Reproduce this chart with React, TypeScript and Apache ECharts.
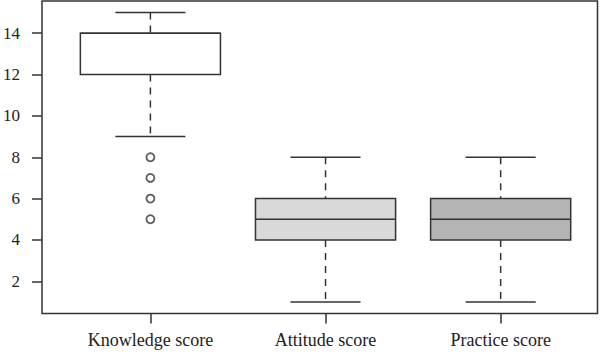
import React, { useEffect, useRef } from "react";
import * as echarts from "echarts";

const categories = ["Knowledge score", "Attitude score", "Practice score"];
const whiskerLow = [9, 1, 1];
const quartile1 = [12, 4, 4];
const medians = [14, 5, 5];
const quartile3 = [14, 6, 6];
const whiskerHigh = [15, 8, 8];
const knowledgeOutliers = [8, 7, 6, 5];
const yTicks = [2, 4, 6, 8, 10, 12, 14];

const boxFills = ["#ffffff", "#d9d9d9", "#b4b4b4"];
const INK = "#333333";
const FONT = "'Liberation Serif', 'DejaVu Serif', serif";

export default function App() {
  const ref = useRef<HTMLDivElement>(null);
  useEffect(() => {
    if (!ref.current) return;
    const chart = echarts.init(ref.current, undefined, { renderer: "svg" });
    const boxData = categories.map((_, i) => [
      i + 1,
      whiskerLow[i],
      quartile1[i],
      medians[i],
      quartile3[i],
      whiskerHigh[i],
    ]);
    const outlierData = knowledgeOutliers.map((v) => [1, v]);
    const line = { stroke: INK, lineWidth: 1.5 };
    chart.setOption({
      animation: false,
      grid: {
        left: 39,
        right: 2.5,
        top: 1,
        bottom: 40.5,
        show: true,
        borderColor: INK,
        borderWidth: 1.5,
        backgroundColor: "transparent",
      },
      xAxis: {
        type: "value",
        min: 0.381,
        max: 3.553,
        splitLine: { show: false },
        axisLine: { show: false },
        axisTick: {
          show: true,
          customValues: [1, 2, 3],
          length: 10,
          lineStyle: { color: INK, width: 1.5 },
        },
        axisLabel: {
          customValues: [1, 2, 3],
          formatter: (v: number) => categories[Math.round(v) - 1] ?? "",
          fontFamily: FONT,
          fontSize: 18,
          color: "#222",
          margin: 17,
        },
      },
      yAxis: {
        type: "value",
        min: 0.44,
        max: 15.56,
        splitLine: { show: false },
        axisLine: { show: false },
        axisTick: {
          show: true,
          customValues: yTicks,
          length: 10,
          lineStyle: { color: INK, width: 1.5 },
        },
        axisLabel: {
          customValues: yTicks,
          fontFamily: FONT,
          fontSize: 17,
          color: "#222",
          margin: 22,
        },
      },
      series: [
        {
          type: "custom",
          data: boxData,
          encode: { x: 0, y: [1, 2, 3, 4, 5] },
          renderItem: (params: any, api: any) => {
            const x = api.value(0);
            const lo = api.coord([x, api.value(1)]);
            const q1 = api.coord([x, api.value(2)]);
            const md = api.coord([x, api.value(3)]);
            const q3 = api.coord([x, api.value(4)]);
            const hi = api.coord([x, api.value(5)]);
            const boxW = api.size([0.8, 0])[0];
            const capW = boxW / 2;
            const cx = lo[0];
            const fill = boxFills[params.dataIndex];
            return {
              type: "group",
              children: [
                {
                  type: "line",
                  shape: { x1: cx, y1: hi[1], x2: cx, y2: q3[1] },
                  style: { ...line, lineDash: [7, 6] },
                },
                {
                  type: "line",
                  shape: { x1: cx, y1: q1[1], x2: cx, y2: lo[1] },
                  style: { ...line, lineDash: [7, 6] },
                },
                {
                  type: "line",
                  shape: { x1: cx - capW / 2, y1: hi[1], x2: cx + capW / 2, y2: hi[1] },
                  style: line,
                },
                {
                  type: "line",
                  shape: { x1: cx - capW / 2, y1: lo[1], x2: cx + capW / 2, y2: lo[1] },
                  style: line,
                },
                {
                  type: "rect",
                  shape: { x: cx - boxW / 2, y: q3[1], width: boxW, height: q1[1] - q3[1] },
                  style: { fill, stroke: INK, lineWidth: 1.5 },
                },
                {
                  type: "line",
                  shape: { x1: cx - boxW / 2, y1: md[1], x2: cx + boxW / 2, y2: md[1] },
                  style: line,
                },
              ],
            };
          },
        },
        {
          type: "scatter",
          data: outlierData,
          symbol: "circle",
          symbolSize: 8,
          itemStyle: { color: "#ffffff", borderColor: INK, borderWidth: 1.8 },
        },
      ],
    });
    return () => chart.dispose();
  }, []);
  return <div ref={ref} style={{ width: 600, height: 354, position: "absolute", left: 0, top: 0 }} />;
}
